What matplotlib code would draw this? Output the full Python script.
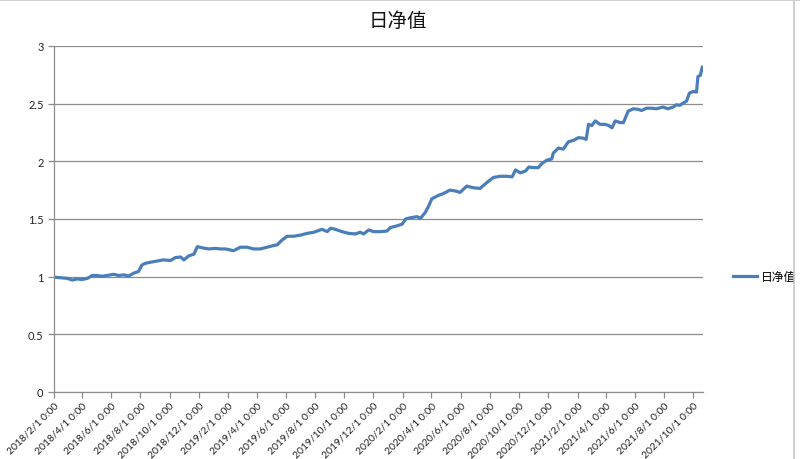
import numpy as np
import pandas as pd
import matplotlib
matplotlib.use('Agg')
import matplotlib.pyplot as plt
import matplotlib.dates as mdates
from matplotlib.lines import Line2D

plt.rcParams['font.family'] = ['Lato', 'Noto Sans CJK SC', 'DejaVu Sans']

# daily net value (roughly weekly samples)
dates = [
    '2018-02-02', '2018-02-15', '2018-03-01', '2018-03-11', '2018-03-22', '2018-04-01',
    '2018-04-12', '2018-04-22', '2018-05-02', '2018-05-13', '2018-05-23', '2018-06-06',
    '2018-06-16', '2018-06-27', '2018-07-07', '2018-07-18', '2018-07-28', '2018-08-04',
    '2018-08-11', '2018-08-22', '2018-09-05', '2018-09-18', '2018-10-03', '2018-10-13',
    '2018-10-24', '2018-10-31', '2018-11-10', '2018-11-21', '2018-11-28', '2018-12-08',
    '2018-12-22', '2019-01-05', '2019-01-15', '2019-01-26', '2019-02-12', '2019-02-26',
    '2019-03-12', '2019-03-26', '2019-04-09', '2019-04-23', '2019-05-07', '2019-05-14',
    '2019-05-24', '2019-06-04', '2019-06-18', '2019-07-02', '2019-07-16', '2019-07-30',
    '2019-08-09', '2019-08-16', '2019-08-27', '2019-09-03', '2019-09-13', '2019-09-27',
    '2019-10-11', '2019-10-25', '2019-11-04', '2019-11-11', '2019-11-22', '2019-12-02',
    '2019-12-16', '2019-12-30', '2020-01-06', '2020-01-20', '2020-01-31', '2020-02-07',
    '2020-02-17', '2020-03-02', '2020-03-09', '2020-03-19', '2020-03-26', '2020-04-02',
    '2020-04-16', '2020-04-26', '2020-05-10', '2020-05-24', '2020-05-31', '2020-06-14',
    '2020-06-28', '2020-07-12', '2020-07-26', '2020-08-09', '2020-08-23', '2020-09-06',
    '2020-09-17', '2020-09-24', '2020-10-04', '2020-10-15', '2020-10-22', '2020-11-01',
    '2020-11-11', '2020-11-18', '2020-11-29', '2020-12-09', '2020-12-12', '2020-12-23',
    '2021-01-02', '2021-01-13', '2021-01-23', '2021-02-03', '2021-02-13', '2021-02-19',
    '2021-02-24', '2021-03-03', '2021-03-10', '2021-03-20', '2021-03-31', '2021-04-07',
    '2021-04-14', '2021-04-21', '2021-05-01', '2021-05-08', '2021-05-18', '2021-05-29',
    '2021-06-08', '2021-06-15', '2021-06-25', '2021-07-06', '2021-07-16', '2021-07-30',
    '2021-08-09', '2021-08-20', '2021-08-27', '2021-09-03', '2021-09-10', '2021-09-17',
    '2021-09-23', '2021-10-01', '2021-10-08', '2021-10-11', '2021-10-16', '2021-10-20',
]
nav = [
    0.995, 0.990, 0.985, 0.970, 0.980, 0.975,
    0.985, 1.010, 1.010, 1.003, 1.010, 1.020,
    1.010, 1.015, 1.005, 1.030, 1.045, 1.100,
    1.115, 1.125, 1.135, 1.145, 1.140, 1.165,
    1.170, 1.145, 1.180, 1.195, 1.260, 1.250,
    1.240, 1.245, 1.240, 1.240, 1.225, 1.255,
    1.255, 1.240, 1.240, 1.255, 1.270, 1.275,
    1.315, 1.350, 1.350, 1.360, 1.375, 1.385,
    1.400, 1.410, 1.390, 1.420, 1.410, 1.390,
    1.375, 1.370, 1.385, 1.370, 1.405, 1.390,
    1.390, 1.395, 1.425, 1.440, 1.455, 1.500,
    1.510, 1.520, 1.505, 1.555, 1.610, 1.675,
    1.705, 1.720, 1.750, 1.740, 1.730, 1.785,
    1.770, 1.765, 1.815, 1.860, 1.870, 1.870,
    1.865, 1.925, 1.900, 1.915, 1.950, 1.945,
    1.945, 1.980, 2.010, 2.020, 2.070, 2.115,
    2.105, 2.170, 2.180, 2.205, 2.200, 2.190,
    2.320, 2.310, 2.350, 2.320, 2.320, 2.310,
    2.290, 2.350, 2.335, 2.335, 2.435, 2.455,
    2.450, 2.440, 2.460, 2.460, 2.455, 2.470,
    2.455, 2.470, 2.490, 2.485, 2.505, 2.520,
    2.590, 2.605, 2.600, 2.735, 2.745, 2.815,
]
tick_dates = pd.date_range('2018-02-01', '2021-10-01', freq='2MS')
yticks = [0, 0.5, 1, 1.5, 2, 2.5, 3]

line_color = '#4A7EBB'
grid_color = '#8C8C8C'

fig = plt.figure(figsize=(8, 4.6), dpi=100)
ax = fig.add_axes([0.0675, 0.1457, 0.8115, 0.7523])

ax.plot(pd.to_datetime(dates), nav, color=line_color, lw=2.3, label='日净值',
        solid_joinstyle='round')

ax.set_ylim(0, 3)
ax.set_yticks(yticks)
ax.set_yticklabels(['0', '0.5', '1', '1.5', '2', '2.5', '3'])
ax.set_xlim(pd.Timestamp('2018-02-01'), pd.Timestamp('2021-10-22'))
ax.set_xticks(tick_dates)
ax.set_xticklabels([f'{d.year}/{d.month}/{d.day} 0:00' for d in tick_dates],
                   rotation=45, ha='right', rotation_mode='anchor')

ax.grid(axis='y', color=grid_color, lw=0.9)
ax.set_axisbelow(True)
for s in ['top', 'right']:
    ax.spines[s].set_visible(False)
for s in ['left', 'bottom']:
    ax.spines[s].set_color(grid_color)
    ax.spines[s].set_linewidth(0.9)
ax.tick_params(axis='both', colors=grid_color, labelcolor='#222222',
               length=4, width=0.9, direction='out')
ax.tick_params(axis='x', labelsize=7.5, pad=2)
ax.tick_params(axis='y', labelsize=8)

fig.text(0.4975, 0.955, '日净值', ha='center', va='center', fontsize=14,
         color='#111111')

leg = ax.legend(loc='center left', bbox_to_anchor=(1.03, 0.333), frameon=False,
                fontsize=8.5, handlelength=2.0, handletextpad=0.3)

# faint screenshot border at top and right
fig.add_artist(Line2D([0, 1], [0.998, 0.998], transform=fig.transFigure,
                      color='#C8C8C8', lw=1.2))
fig.add_artist(Line2D([0.993, 0.993], [0, 1], transform=fig.transFigure,
                      color='#C8C8C8', lw=1.2))

fig.savefig('out.png', dpi=100)
